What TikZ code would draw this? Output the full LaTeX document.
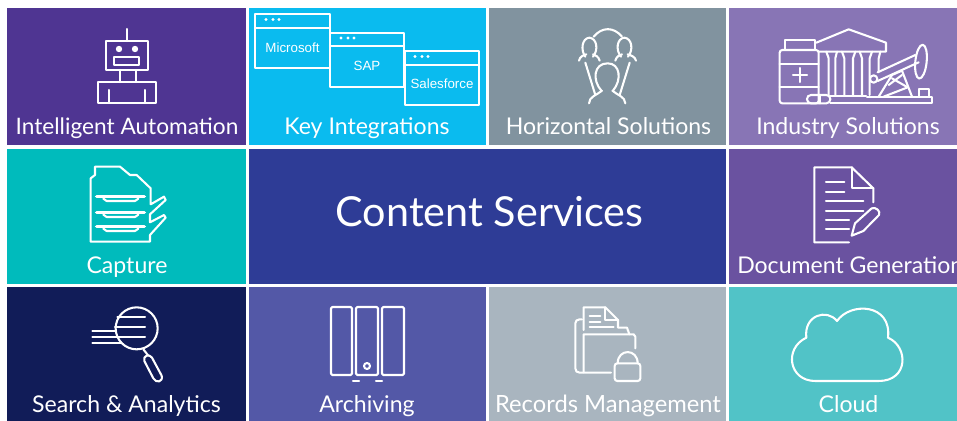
\documentclass[tikz,border=0pt]{standalone}
\usepackage{fontspec}
\setmainfont{Lato}
\newfontfamily\smallfam{Liberation Sans}
\definecolor{cA}{HTML}{4F3592}
\definecolor{cB}{HTML}{0ABBEF}
\definecolor{cC}{HTML}{81939F}
\definecolor{cD}{HTML}{8875B5}
\definecolor{cE}{HTML}{00BBBC}
\definecolor{cF}{HTML}{2E3C96}
\definecolor{cG}{HTML}{6A52A0}
\definecolor{cH}{HTML}{111C58}
\definecolor{cI}{HTML}{5358A7}
\definecolor{cJ}{HTML}{A9B5BF}
\definecolor{cK}{HTML}{51C3C7}
\tikzset{
  x=0.75pt,y=-0.75pt,
  icon/.style={draw=white,line width=1.55pt,line join=round,line cap=round},
  label/.style={text=white,font=\fontsize{17.3pt}{18pt}\selectfont,anchor=base,inner sep=0pt},
  small/.style={text=white,font=\smallfam\fontsize{10pt}{11pt}\selectfont,anchor=center,inner sep=0pt},
  zoomed/.style={scale=1/3}
}
\begin{document}
\begin{tikzpicture}
\useasboundingbox (0,0) rectangle (957,421);
\fill[white] (0,0) rectangle (957,421);
% panels
\fill[cA] (7,8) rectangle (245.5,145);
\fill[cB] (249,8) rectangle (486,145);
\fill[cC] (489,8) rectangle (726,145);
\fill[cD] (729,8) rectangle (957,145);
\fill[cE] (7,149) rectangle (245.5,284);
\fill[cF] (249,149) rectangle (726,284);
\fill[cG] (729,149) rectangle (957,284);
\fill[cH] (7,287) rectangle (245.5,421);
\fill[cI] (249,287) rectangle (486,421);
\fill[cJ] (489,287) rectangle (726,421);
\fill[cK] (729,287) rectangle (957,421);
% labels
\node[label,font=\fontsize{17pt}{18pt}\selectfont] (ia) at (127,134.3) {Intelligent Automation};
\node[label] (ki) at (367,134.3) {Key Integrations};
\node[label] (hs) at (608.5,134.3) {Horizontal Solutions};
\node[label] (is) at (848,134.3) {Industry Solutions};
\node[label] (cap) at (127,273) {Capture};
\node[label,font=\fontsize{31pt}{33pt}\selectfont] (cs) at (489.5,226) {Content Services};
\begin{scope}
\clip (729,149) rectangle (957,284);
\node[label,anchor=base west] (dg) at (737,273) {Document Generation};
\end{scope}
\node[label] (sa) at (126.5,412.3) {Search \& Analytics};
\node[label] (ar) at (367,412.3) {Archiving};
\node[label,font=\fontsize{17.8pt}{18pt}\selectfont] (rm) at (608,412.3) {Records Management};
\node[label] (cl) at (848.5,412.3) {Cloud};
% robot
\begin{scope}[icon]
\draw (127,29)--(127,41);
\draw (106,41) rectangle (148,70);
\fill[white] (119,49) circle (3.2) (135,49) circle (3.2);
\draw (114,57) rectangle (139,65);
\draw (120,70)--(120,82) (136,70)--(136,82);
\draw (98,82) rectangle (156,103);
\draw (109,90)--(109,103) (145,90)--(145,103);
\end{scope}
% windows
\begin{scope}[icon]
\draw (255,14) rectangle (330,68);
\draw (255,28)--(330,28);
\draw (330,33)--(404,33)--(404,87)--(330,87)--(330,33);
\draw (330,46)--(404,46);
\draw (405,51) rectangle (479,105);
\draw (405,65)--(479,65);
\end{scope}
\fill[white] (266,19.5) circle (1.6) (273,19.5) circle (1.6) (279,19.5) circle (1.6)
 (341,38) circle (1.6) (348,38) circle (1.6) (354,38) circle (1.6)
 (415,56.5) circle (1.6) (422,56.5) circle (1.6) (428,56.5) circle (1.6);
\node[small] (w1) at (292.5,48) {Microsoft};
\node[small] (w2) at (367,66) {SAP};
\node[small] (w3) at (442,84) {Salesforce};
% people
\begin{scope}[shift={(487,0)},zoomed,icon]
\draw (320,110) .. controls (345,80) and (380,80) .. (405,110);
\draw (295,170) .. controls (280,150) and (285,115) .. (307,113) .. controls (330,115) and (335,150) .. (318,170);
\draw (276,182) .. controls (278,170) and (290,165) .. (298,163);
\draw (318,163) .. controls (325,165) and (335,170) .. (338,182);
\draw (402,170) .. controls (385,150) and (390,115) .. (412,113) .. controls (435,115) and (440,150) .. (423,170);
\draw (385,182) .. controls (388,170) and (397,165) .. (405,163);
\draw (422,163) .. controls (430,165) and (445,170) .. (447,182);
\draw (295,188)--(325,285);
\draw (428,188)--(398,285);
\draw (343,272) .. controls (315,240) and (320,190) .. (362,190) .. controls (400,190) and (405,240) .. (378,272);
\draw (306,310) .. controls (306,290) and (330,285) .. (345,272);
\draw (376,272) .. controls (390,285) and (415,290) .. (415,310);
\end{scope}
% industry
\begin{scope}[shift={(487,0)},zoomed,icon]
\draw[rounded corners=2pt] (878,310) rectangle (995,150);
\draw (893,150) rectangle (985,120);
\draw (878,192)--(995,192) (878,262)--(995,262);
\draw (918,225)--(960,225) (939,204)--(939,246);
\draw (988,128)--(1085,88)--(1197,128)--(1197,155)--(995,155);
\draw (1018,155)--(1025,175)--(1025,285) (1050,155)--(1045,175)--(1045,285);
\draw (1065,155)--(1072,175)--(1072,285) (1105,155)--(1098,175)--(1098,285);
\draw (1118,155)--(1125,175)--(1125,285) (1155,155)--(1148,175)--(1148,285);
\draw (1180,155)--(1175,175)--(1175,215);
\draw (1030,287)--(1137,287);
\draw[rounded corners=3pt] (960,285) rectangle (1030,310);
\draw (1000,285)--(1000,310);
\draw (1030,310)--(1335,310)--(1335,290)--(1140,290);
\draw (1297,290)--(1297,268)--(1325,268)--(1325,290);
\draw (1172,217)--(1285,165) (1172,243)--(1295,187);
\draw[rotate around={-6:(1302,185)}] (1302,185) ellipse [x radius=17,y radius=51];
\draw (1160,237) circle (11);
\draw (1175,290)--(1215,225)--(1245,212)--(1275,290);
\draw (1190,290)--(1262,262)--(1215,235) (1205,255)--(1245,225);
\end{scope}
% capture
\begin{scope}[shift={(0,145)},zoomed,icon]
\draw (285,65)--(360,65)--(390,90)--(410,90)--(452,130)--(452,178)--(492,155)--(497,165)--(450,208)--(450,232)--(492,210)--(497,218)--(450,270)--(450,290)--(272,290)--(272,100)--(285,90)--cycle;
\foreach \yy in {155,203,245}{
  \draw[line width=2.6pt] (290,\yy)--(433,\yy);
  \draw (310,\yy+6)--(320,\yy+13)--(405,\yy+13)--(415,\yy+6);
}
\end{scope}
% document
\begin{scope}[shift={(725,145)},zoomed,icon]
\draw (372,292)--(268,292)--(268,67)--(380,67)--(445,130)--(445,172);
\draw (380,67)--(380,130)--(445,130);
\draw (303,112)--(358,112) (303,140)--(358,140) (303,168)--(415,168) (303,197)--(415,197) (303,225)--(372,225) (303,253)--(372,253);
\draw (380,272)--(390,235)--(440,190) .. controls (452,185) and (468,198) .. (462,210)--(415,258)--cycle;
\end{scope}
% search
\begin{scope}[shift={(0,285)},zoomed,icon]
\draw (410,130) circle (63);
\draw (352,97)--(435,97) (345,127)--(435,127) (350,157)--(435,157);
\draw (277,137)--(345,137) (277,155)--(350,155) (277,175)--(365,175);
\draw (430,193)--(445,212);
\draw (433,228) .. controls (428,212) and (448,205) .. (456,218)--(485,272) .. controls (490,292) and (468,295) .. (460,280)--cycle;
\end{scope}
% archiving
\begin{scope}[icon,rounded corners=1pt]
\draw (331,307) rectangle (352,375);
\draw (356,307) rectangle (378,375);
\draw (382,307) rectangle (404,375);
\draw (367,366) circle (3);
\draw (353,381)--(359,381) (376,381)--(382,381);
\end{scope}
% records
\begin{scope}[shift={(487,285)},zoomed,icon]
\draw (285,103)--(278,103) .. controls (270,103) and (265,108) .. (265,115)--(265,250) .. controls (265,258) and (270,263) .. (278,263)--(372,263);
\draw (290,135)--(290,67)--(355,67)--(393,105)--(393,128);
\draw (355,67)--(355,105)--(393,105);
\draw (308,93)--(340,93) (308,110)--(340,110) (308,127)--(380,127);
\draw (290,262)--(290,148)--(440,148)--(445,155)--(445,190);
\draw (395,128)--(420,128)--(427,148);
\draw[rounded corners=2pt] (383,235) rectangle (460,288);
\draw (392,235) .. controls (392,190) and (452,190) .. (452,235);
\end{scope}
% cloud
\begin{scope}[shift={(487,285)},zoomed,icon]
\draw (1050,108) .. controls (1090,50) and (1215,55) .. (1203,158) .. controls (1265,185) and (1265,288) .. (1175,288) -- (985,288) .. controls (905,288) and (890,190) .. (958,158) .. controls (950,90) and (1020,70) .. (1050,108) -- cycle;
\end{scope}
\end{tikzpicture}
\end{document}
